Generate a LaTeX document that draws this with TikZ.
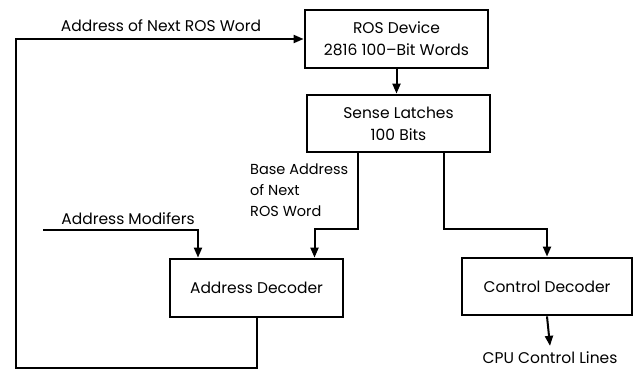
\documentclass[tikz,border=0pt]{standalone}
\usepackage{fontspec}
\setmainfont{Poppins}
\usetikzlibrary{arrows.meta}
\begin{document}
\begin{tikzpicture}[x=1pt, y=-1pt,
    blk/.style={draw, line width=2.8pt, align=center, inner sep=0pt,
        font=\fontsize{15.5}{22}\selectfont},
    lnk/.style={line width=2pt},
    arr/.style={lnk, -{Triangle[length=10pt,width=8pt]}},
    lbl/.style={font=\fontsize{15.5}{21}\selectfont, inner sep=0pt}]
    \useasboundingbox (0,0) rectangle (639,370);
    % blocks
    \node[blk, minimum width=183pt, minimum height=58pt] (ros) at (396.5,39)
        {ROS Device\\2816 100--Bit Words};
    \node[blk, minimum width=183pt, minimum height=57pt] (sense) at (398.5,123.5)
        {Sense Latches\\100 Bits};
    \node[blk, minimum width=173pt, minimum height=58pt] (adec) at (256.5,288)
        {Address Decoder};
    \node[blk, minimum width=170pt, minimum height=57pt] (cdec) at (547,286.5)
        {Control Decoder};
    % labels
    \node[lbl] (next) at (161,26) {Address of Next ROS Word};
    \node[lbl] (mods) at (128,219) {Address Modifers};
    \node[lbl, anchor=north west, align=left, font=\fontsize{14.5}{21}\selectfont]
        (base) at (250,164) {Base Address\\of Next\\ROS Word};
    \node[lbl] (cpu) at (550,358) {CPU Control Lines};
    \coordinate (loop) at (16,368);
    \coordinate (modin) at (43,230);
    % connectors
    \draw[arr] (ros.south) -- (ros.south |- sense.north);
    \draw[arr] (adec.south) |- (loop) |- (ros.west);
    \draw[arr] (modin) -| ([xshift=-58.5pt]adec.north);
    \draw[arr] ([xshift=-40.5pt]sense.south) -- ++(0,76) -| ([xshift=58pt]adec.north);
    \draw[arr] ([xshift=45.5pt]sense.south) -- ++(0,76) -| (cdec.north);
    \draw[arr] (cdec.south) -- ([yshift=6pt]cpu.north);
\end{tikzpicture}
\end{document}
